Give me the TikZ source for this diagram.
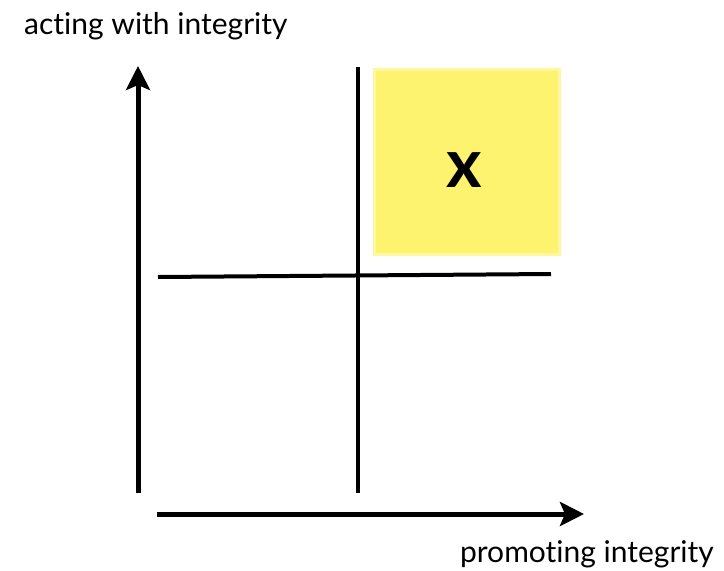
\documentclass[tikz,border=0pt]{standalone}
\usepackage{fontspec}
\setmainfont{Lato}[Ligatures=NoCommon]
\usetikzlibrary{arrows.meta}
\begin{document}
\begin{tikzpicture}[x=1pt,y=-1pt,
  axis/.style={line width=5pt,-{Stealth[length=24pt,width=24pt,inset=5pt]}},
  divider/.style={line width=4pt},
  label/.style={font=\fontsize{30}{35}\selectfont,inner sep=0pt},
  quadrant/.style={fill={rgb,255:red,253;green,243;blue,110},draw={rgb,255:red,255;green,247;blue,160},line width=3pt}]
  \useasboundingbox (0,0) rectangle (724,571);
  % highlighted quadrant
  \node[quadrant,minimum width=185pt,minimum height=185pt,anchor=north west] (box) at (372.5,67.5) {};
  \node[font=\fontsize{68}{68}\bfseries\selectfont,inner sep=0pt] (mark) at (464,170) {x};
  % axes
  \coordinate (yb) at (138,493);
  \coordinate (yt) at (138,66);
  \coordinate (xl) at (157,514);
  \coordinate (xr) at (584,514);
  \draw[axis] (yb) -- (yt);
  \draw[axis] (xl) -- (xr);
  % quadrant dividers
  \coordinate (vt) at (358,67);
  \coordinate (vb) at (358,493);
  \coordinate (hl) at (158,277);
  \coordinate (hr) at (551,274);
  \draw[divider] (vt) -- (vb);
  \draw[divider] (hl) -- (hr);
  % axis labels
  \node[label,anchor=west] (ylab) at (24,26) {acting with integrity};
  \node[label,anchor=east] (xlab) at (714,554) {promoting integrity};
\end{tikzpicture}
\end{document}
